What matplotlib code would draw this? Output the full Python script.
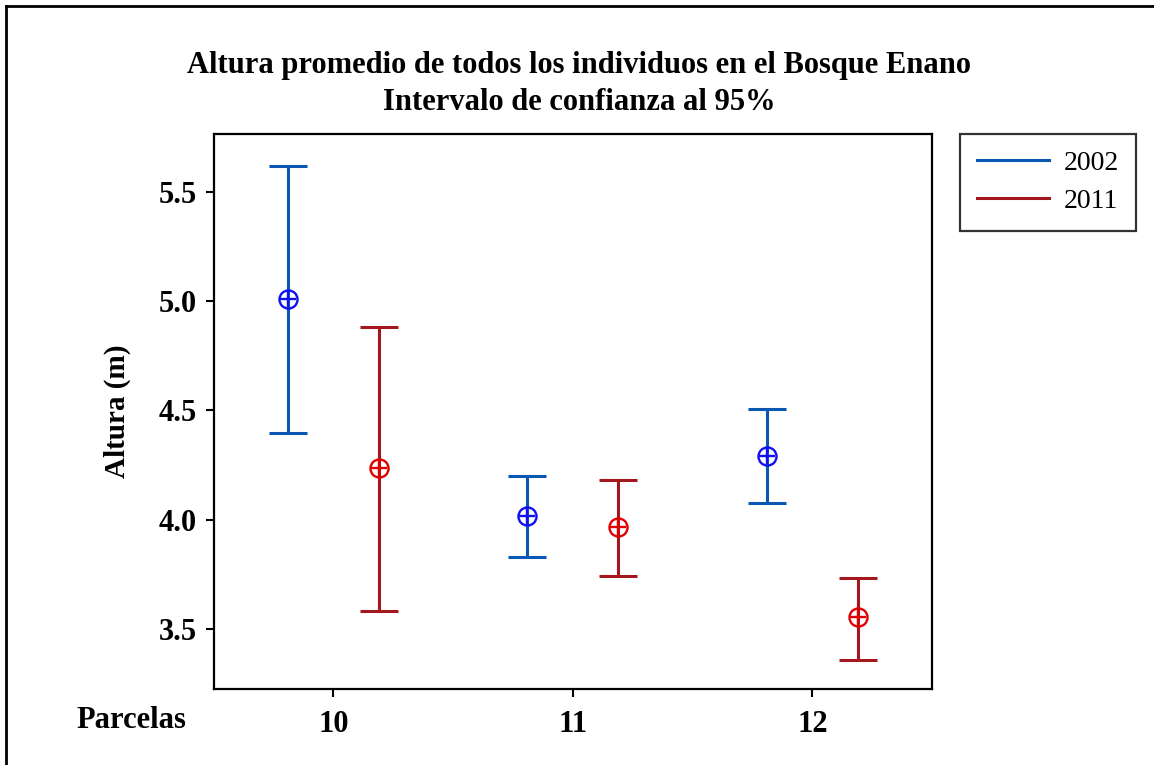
import matplotlib
matplotlib.use("Agg")
import matplotlib.pyplot as plt
from matplotlib.lines import Line2D
import numpy as np

# ---------------- DATA ----------------

parcelas = [10, 11, 12]
years = ["2002", "2011"]

mean_2002 = [5.01, 4.015, 4.293]
low_2002 = [4.395, 3.832, 4.079]
high_2002 = [5.618, 4.198, 4.508]

mean_2011 = [4.239, 3.965, 3.554]
low_2011 = [3.581, 3.741, 3.360]
high_2011 = [4.881, 4.180, 3.733]

# ---------------- STYLE ----------------

plt.rcParams["font.family"] = ["Liberation Serif", "DejaVu Serif"]

LINE_COLORS = ["#0757B3", "#A3181F"]
MARK_COLORS = ["#1010F0", "#E00000"]
OFFSETS = [-0.19, 0.19]

fig = plt.figure(figsize=(11.54, 7.65), dpi=100)
ax = fig.add_axes([0.1852, 0.0993, 0.6224, 0.7255])

series = [
    (mean_2002, low_2002, high_2002),
    (mean_2011, low_2011, high_2011),
]

x = np.array(parcelas, dtype=float)

for i, (m, lo, hi) in enumerate(series):
    m = np.array(m)
    yerr = [m - np.array(lo), np.array(hi) - m]
    ax.errorbar(x + OFFSETS[i], m, yerr=yerr, fmt="none",
                ecolor=LINE_COLORS[i], elinewidth=2.2,
                capsize=13.5, capthick=2.2)
    ax.plot(x + OFFSETS[i], m, linestyle="none", marker="o",
            markersize=13, markerfacecolor="none",
            markeredgecolor=MARK_COLORS[i], markeredgewidth=1.7)
    ax.plot(x + OFFSETS[i], m, linestyle="none", marker="+",
            markersize=12, markeredgecolor=MARK_COLORS[i],
            markeredgewidth=1.7)

ax.set_xlim(9.5, 12.5)
ax.set_ylim(3.226, 5.764)
ax.set_xticks(parcelas)
ax.set_xticklabels([str(p) for p in parcelas])
ax.set_yticks([3.5, 4.0, 4.5, 5.0, 5.5])
ax.set_yticklabels(["3.5", "4.0", "4.5", "5.0", "5.5"])

for s in ax.spines.values():
    s.set_linewidth(1.6)
ax.tick_params(axis="both", direction="out", length=6, width=1.5,
               labelsize=22, pad=6)
for lab in ax.get_xticklabels() + ax.get_yticklabels():
    lab.set_fontweight("bold")
ax.tick_params(axis="x", pad=9)

ax.set_ylabel("Altura (m)", fontsize=21, fontweight="bold", labelpad=20)

fig.text(0.066, 0.058, "Parcelas", fontsize=22, fontweight="bold",
         ha="left", va="center")

fig.text(0.502, 0.914, "Altura promedio de todos los individuos en el Bosque Enano",
         fontsize=22, fontweight="bold", ha="center", va="center")
fig.text(0.502, 0.866, "Intervalo de confianza al 95%",
         fontsize=22, fontweight="bold", ha="center", va="center")

# legend
handles = [Line2D([], [], color=LINE_COLORS[i], linewidth=2.2) for i in range(2)]
leg = ax.legend(handles, years, loc="upper left",
                bbox_to_anchor=(1.039, 1.0), fontsize=20,
                frameon=True, fancybox=False, edgecolor="black",
                handlelength=2.6, handletextpad=0.55, borderpad=0.6,
                labelspacing=0.45, borderaxespad=0)
leg.get_frame().set_linewidth(1.6)

# outer frame (top and left visible)
fig.add_artist(Line2D([0.0052, 1.0], [0.992, 0.992], color="black",
                      linewidth=2, transform=fig.transFigure))
fig.add_artist(Line2D([0.0052, 0.0052], [0.0, 0.992], color="black",
                      linewidth=2, transform=fig.transFigure))

fig.savefig("out.png", dpi=100, facecolor="white")
